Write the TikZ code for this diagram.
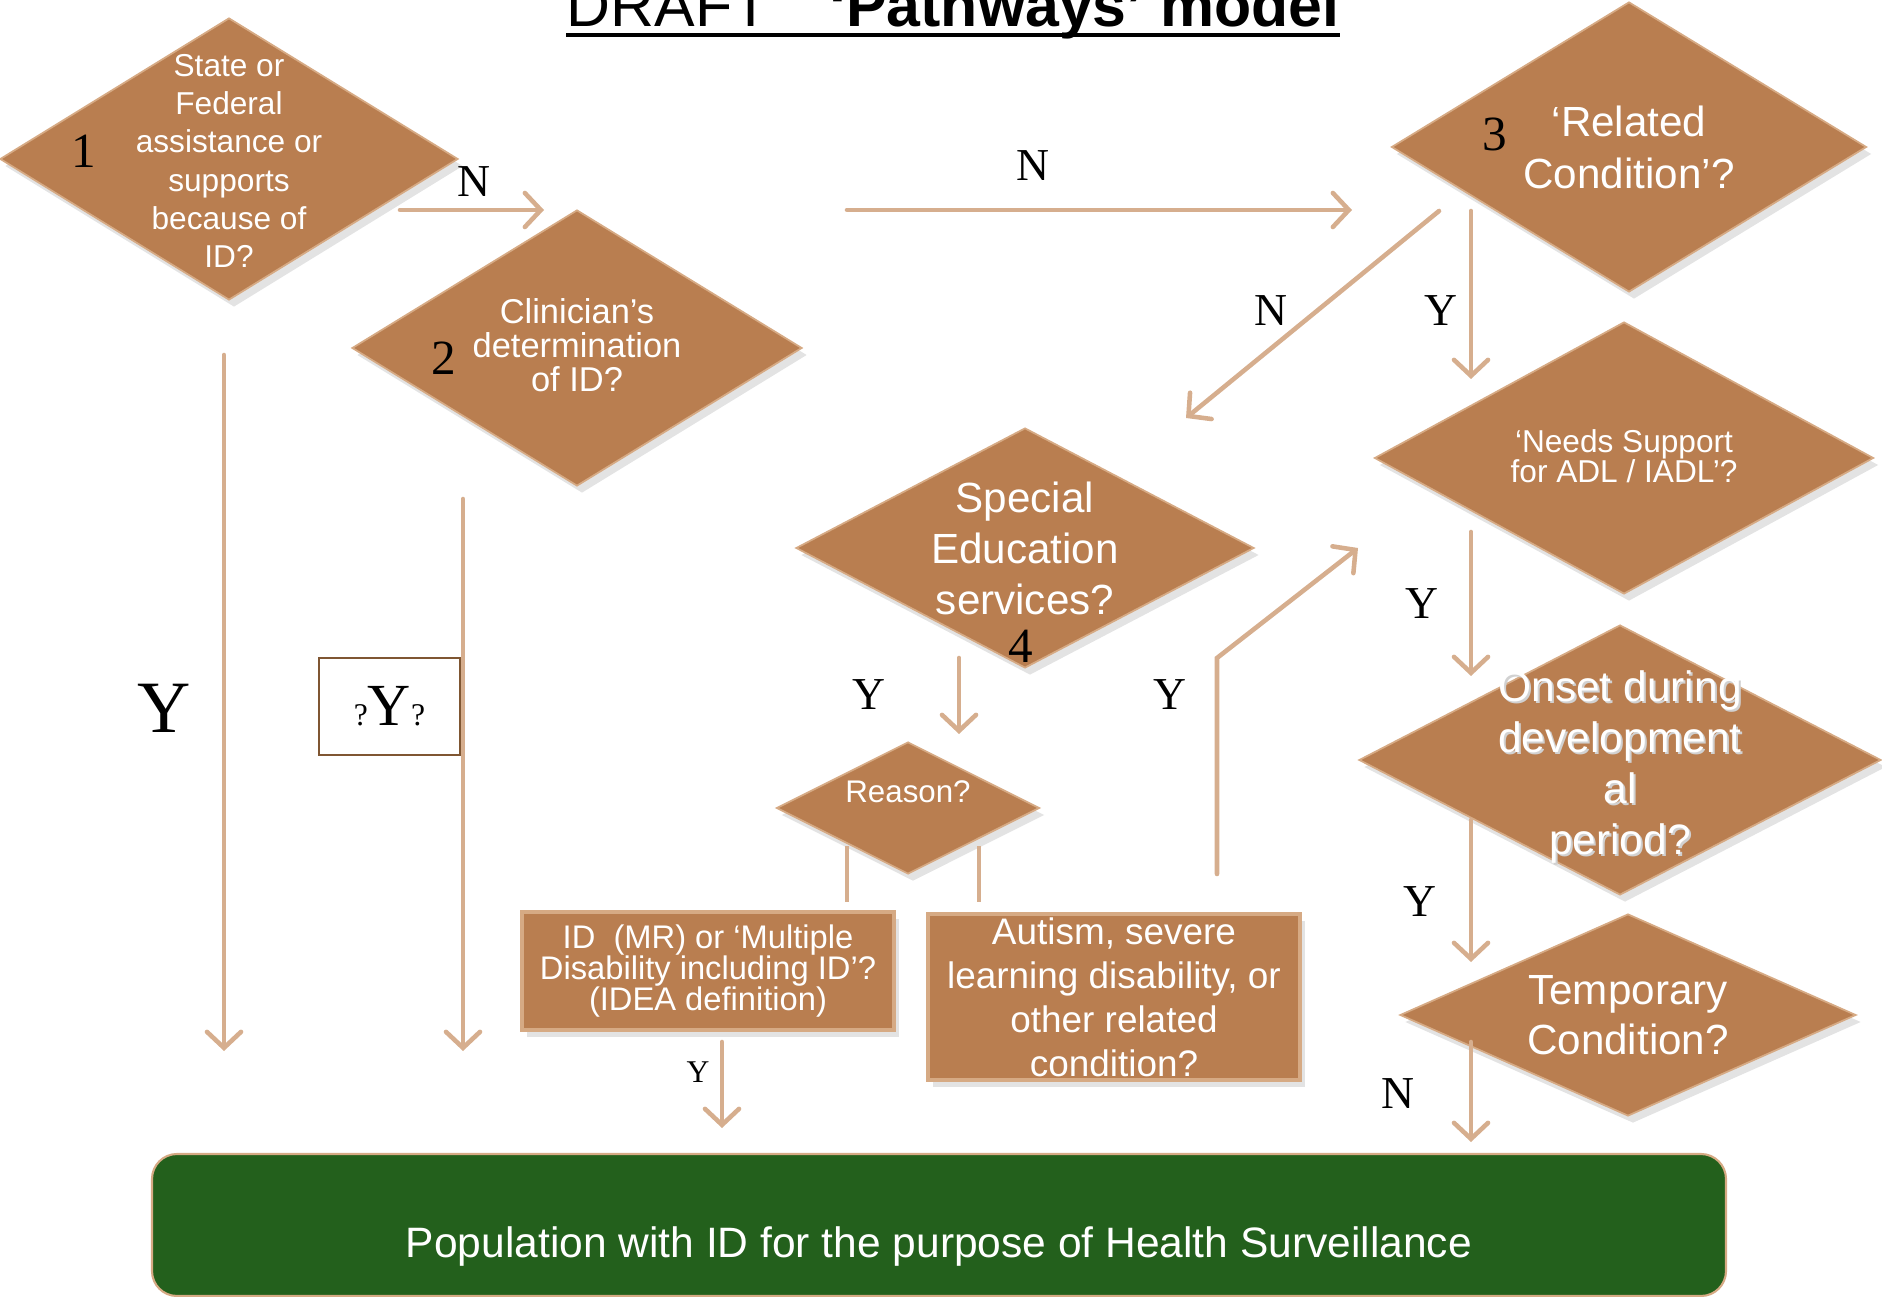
\documentclass[tikz,border=0pt]{standalone}
\usepackage{fontspec}
\setmainfont{Liberation Sans}
\newfontfamily\tnr{Liberation Serif}
\usetikzlibrary{shapes.geometric,arrows.meta,shadows}
\definecolor{brn}{RGB}{185,126,80}
\definecolor{brnedge}{RGB}{214,170,132}
\definecolor{arrowtan}{RGB}{214,174,142}
\definecolor{boxedge}{RGB}{127,86,50}
\definecolor{popgreen}{RGB}{35,96,28}
\newcommand{\tightlines}{\lineskiplimit=-5pt\relax}
\tikzset{
  dmd/.style={shape=diamond, fill=brn, draw=brnedge, line width=0.5pt, inner sep=0pt,
    drop shadow={shadow xshift=0.5mm, shadow yshift=-0.7mm, opacity=0.22}},
  rbox/.style={rectangle, fill=brn, draw=brnedge, line width=0.9pt, inner sep=0pt,
    drop shadow={shadow xshift=0.5mm, shadow yshift=-0.7mm, opacity=0.22}},
  wtxt/.style={text=white, align=center, inner sep=0pt},
  yn/.style={font=\tnr\fontsize{13}{13}\selectfont, inner sep=0pt},
  num/.style={font=\tnr\fontsize{14}{14}\selectfont, inner sep=0pt},
  arr/.style={draw=arrowtan, line width=1.3pt, line cap=round,
    -{Straight Barb[length=1.6mm,width=3.4mm,line cap=round]}},
  lnk/.style={draw=arrowtan, line width=1.3pt},
}

\begin{document}
\begin{tikzpicture}
\useasboundingbox (0,0) rectangle (18.82,-12.97);

% title
\node[anchor=base west, inner sep=0pt, font=\fontsize{17.3}{20}\selectfont] (title) at (5.66,-0.27)
  {DRAFT\hspace{0.6cm}\textbf{‘Pathways’ model}};
\draw[line width=0.9pt] ([yshift=-0.08cm]title.base west) -- ([yshift=-0.08cm]title.base east);

% decision diamonds
\node[dmd, minimum width=4.58cm, minimum height=2.82cm,
  label={[wtxt,font=\fontsize{9}{10.9}\selectfont,yshift=-0.02cm]center:{State or\\Federal\\assistance or\\supports\\because of\\ID?}}] (d1) at (2.29,-1.59) {};
\node[dmd, minimum width=4.50cm, minimum height=2.76cm,
  label={[wtxt,font=\fontsize{9.8}{9.6}\selectfont\tightlines,yshift=0.03cm]center:{Clinician’s\\determination\\of ID?}}] (d2) at (5.77,-3.48) {};
\node[dmd, minimum width=4.75cm, minimum height=2.90cm,
  label={[wtxt,font=\fontsize{12}{14.8}\selectfont]center:{‘Related\\Condition’?}}] (d3) at (16.29,-1.47) {};
\node[dmd, minimum width=4.58cm, minimum height=2.40cm,
  label={[wtxt,font=\fontsize{12}{14.5}\selectfont]center:{Special\\Education\\services?}}] (d4) at (10.25,-5.48) {};
\node[dmd, minimum width=2.63cm, minimum height=1.32cm,
  label={[wtxt,font=\fontsize{8.9}{9}\selectfont,yshift=0.16cm]center:{Reason?}}] (reason) at (9.08,-8.08) {};
\node[dmd, minimum width=4.99cm, minimum height=2.72cm,
  label={[wtxt,font=\fontsize{9}{8.5}\selectfont\tightlines,yshift=0.02cm]center:{‘Needs Support\\for ADL / IADL’?}}] (needs) at (16.24,-4.58) {};
\node[dmd, minimum width=5.22cm, minimum height=2.70cm,
  label={[wtxt,text=black!18,font=\fontsize{12.1}{14.5}\selectfont,xshift=0.2mm,yshift=-0.09cm]center:{Onset during\\development\\al\\period?}},
  label={[wtxt,font=\fontsize{12.1}{14.5}\selectfont,yshift=-0.07cm]center:{Onset during\\development\\al\\period?}}] (onset) at (16.20,-7.60) {};
\node[dmd, minimum width=4.56cm, minimum height=2.02cm,
  label={[wtxt,font=\fontsize{12}{14.2}\selectfont]center:{Temporary\\Condition?}}] (temp) at (16.28,-10.15) {};

% numbers
\node[num] (n1) at (0.84,-1.51) {1};
\node[num] (n2) at (4.44,-3.58) {2};
\node[num] (n3) at (14.95,-1.34) {3};
\node[num] (n4) at (10.21,-6.46) {4};

% reason boxes
\node[rbox, wtxt, minimum width=3.72cm, minimum height=1.18cm, font=\fontsize{9.3}{8.8}\selectfont\tightlines] (idbox) at (7.08,-9.71)
  {ID~~(MR) or ‘Multiple\\Disability including ID’?\\(IDEA definition)};
\node[rbox, wtxt, minimum width=3.72cm, minimum height=1.66cm, font=\fontsize{10.5}{12.5}\selectfont] (autbox) at (11.14,-9.97)
  {Autism, severe\\learning disability, or\\other related\\condition?};

% result
\node[rectangle, rounded corners=0.25cm, fill=popgreen, draw=brnedge, line width=0.6pt,
  minimum width=15.74cm, minimum height=1.42cm,
  label={[wtxt,font=\fontsize{12.1}{14}\selectfont,yshift=-0.21cm]center:{Population with ID for the purpose of Health Surveillance}}] (pop) at (9.39,-12.25) {};

% ?Y? box
\node[draw=boxedge, line width=0.8pt, minimum width=1.41cm, minimum height=0.97cm, inner sep=0pt, font=\tnr] (qy) at (3.895,-7.065)
  {{\fontsize{9}{9}\selectfont ?}{\fontsize{17}{17}\selectfont Y}{\fontsize{9}{9}\selectfont ?}};

% free ends of the connectors
\coordinate (a1s) at (4.00,-2.10);  \coordinate (a1e) at (5.44,-2.10);
\coordinate (a2s) at (8.47,-2.10);  \coordinate (a2e) at (13.52,-2.10);
\coordinate (a3s) at (14.39,-2.11); \coordinate (a3e) at (11.86,-4.18);
\coordinate (a4s) at (14.71,-2.11); \coordinate (a4e) at (14.71,-3.79);
\coordinate (a5s) at (14.71,-5.32); \coordinate (a5e) at (14.71,-6.76);
\coordinate (a6s) at (14.71,-8.20); \coordinate (a6e) at (14.71,-9.62);
\coordinate (a7s) at (14.71,-10.42); \coordinate (a7e) at (14.71,-11.42);
\coordinate (a8s) at (9.59,-6.58);  \coordinate (a8e) at (9.59,-7.34);
\coordinate (l1s) at (8.47,-8.46);  \coordinate (l1e) at (8.47,-9.02);
\coordinate (l2s) at (9.79,-8.46);  \coordinate (l2e) at (9.79,-9.02);
\coordinate (a10s) at (7.22,-10.42); \coordinate (a10e) at (7.22,-11.28);
\coordinate (a11s) at (12.17,-8.74); \coordinate (a11m) at (12.17,-6.58); \coordinate (a11e) at (13.58,-5.48);
\coordinate (a12s) at (2.24,-3.55); \coordinate (a12e) at (2.24,-10.51);
\coordinate (a13s) at (4.63,-4.99); \coordinate (a13e) at (4.63,-10.51);

% connectors
\draw[arr] (a1s) -- (a1e);
\draw[arr] (a2s) -- (a2e);
\draw[arr] (a3s) -- (a3e);
\draw[arr] (a4s) -- (a4e);
\draw[arr] (a5s) -- (a5e);
\draw[arr] (a6s) -- (a6e);
\draw[arr] (a7s) -- (a7e);
\draw[arr] (a8s) -- (a8e);
\draw[lnk] (l1s) -- (l1e);
\draw[lnk] (l2s) -- (l2e);
\draw[arr] (a10s) -- (a10e);
\draw[arr] (a11s) -- (a11m) -- (a11e);
\draw[arr] (a12s) -- (a12e);
\draw[arr] (a13s) -- (a13e);

% Y / N labels
\node[yn] (lbN1) at (4.74,-1.82) {N};
\node[yn] (lbN2) at (10.33,-1.66) {N};
\node[yn] (lbN3) at (12.71,-3.11) {N};
\node[yn] (lbY3) at (14.41,-3.11) {Y};
\node[yn] (lbY5) at (14.22,-6.04) {Y};
\node[yn] (lbY6) at (14.20,-9.02) {Y};
\node[yn] (lbN7) at (13.98,-10.94) {N};
\node[yn] (lbY8) at (8.69,-6.95) {Y};
\node[yn] (lbY11) at (11.70,-6.95) {Y};
\node[yn, font=\tnr\fontsize{9}{9}\selectfont] (lbY10) at (6.98,-10.72) {Y};
\node[yn, font=\tnr\fontsize{21}{21}\selectfont] (lbY1) at (1.64,-7.08) {Y};
\end{tikzpicture}
\end{document}
